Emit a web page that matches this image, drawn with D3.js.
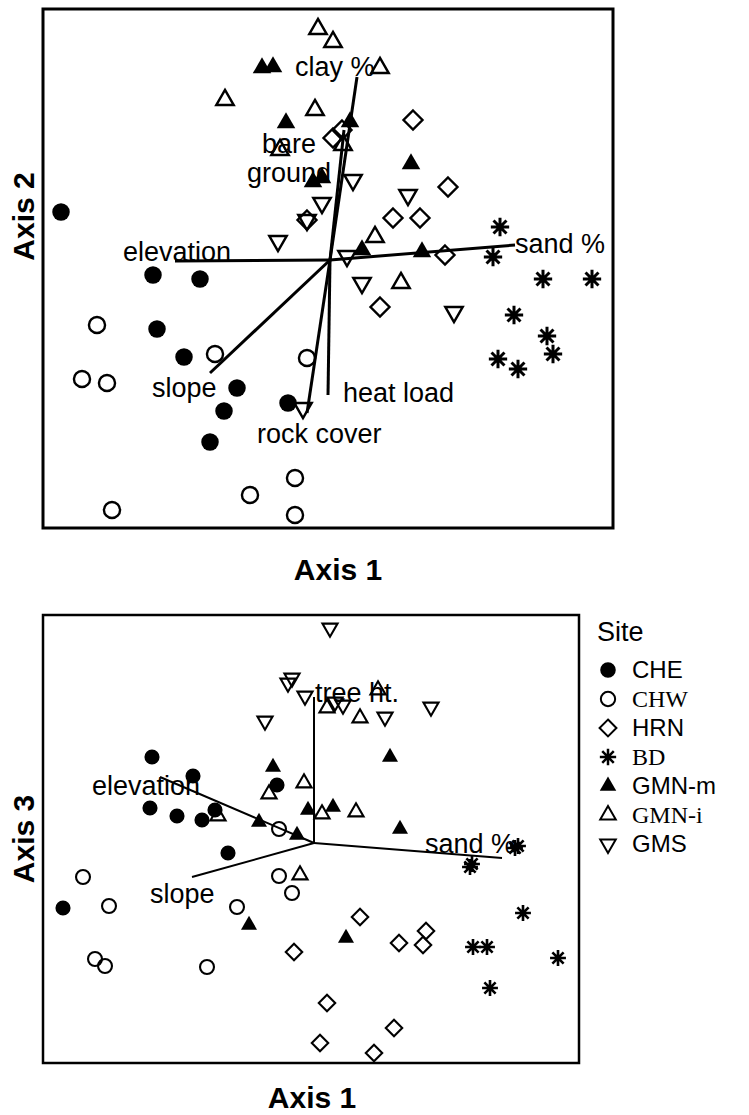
<!DOCTYPE html>
<html>
<head>
<meta charset="utf-8">
<script src="https://cdn.jsdelivr.net/npm/d3@7"></script>
<style>
    body { margin: 0; background: #fff; }
    svg text { font-family: "Liberation Sans", Arial, sans-serif; fill: #000; }
</style>
</head>
<body>
<svg id="chart" width="749" height="1115"></svg>
<script>
// site groups, in legend order
const sites = ["CHE", "CHW", "HRN", "BD", "GMN-m", "GMN-i", "GMS"];
const serifSites = ["CHW", "BD", "GMN-i"];

// plot scores on axis 1 and axis 2: [site, axis1, axis2]
const scoresAx12 = [
    ["CHE", -2.69, 0.48], ["CHE", -1.77, -0.15], ["CHE", -1.30, -0.19], ["CHE", -1.73, -0.69], ["CHE", -1.46, -0.97],
    ["CHE", -0.93, -1.28], ["CHE", -1.06, -1.51], ["CHE", -1.20, -1.82], ["CHE", -0.42, -1.43],
    ["CHW", -2.33, -0.65], ["CHW", -2.48, -1.19], ["CHW", -2.23, -1.23], ["CHW", -1.15, -0.94], ["CHW", -0.23, -0.98],
    ["CHW", -0.35, -2.18], ["CHW", -0.80, -2.35], ["CHW", -2.18, -2.50], ["CHW", -0.35, -2.55],
    ["HRN", 0.83, 1.40], ["HRN", 0.12, 1.30], ["HRN", 0.03, 1.22], ["HRN", 1.18, 0.73], ["HRN", 0.63, 0.42],
    ["HRN", 0.90, 0.42], ["HRN", 1.15, 0.05], ["HRN", 0.50, -0.47], ["HRN", -0.23, 0.40],
    ["BD", 1.70, 0.33], ["BD", 1.63, 0.03], ["BD", 2.13, -0.19], ["BD", 2.62, -0.19], ["BD", 1.84, -0.55],
    ["BD", 2.17, -0.76], ["BD", 2.23, -0.94], ["BD", 1.68, -0.99], ["BD", 1.88, -1.09],
    ["GMN-m", -0.68, 1.92], ["GMN-m", -0.57, 1.93], ["GMN-m", -0.44, 1.37], ["GMN-m", 0.20, 1.38], ["GMN-m", -0.17, 0.78],
    ["GMN-m", -0.08, 0.82], ["GMN-m", 0.81, 0.96], ["GMN-m", 0.32, 0.10], ["GMN-m", 0.92, 0.08],
    ["GMN-i", -0.12, 2.31], ["GMN-i", 0.03, 2.18], ["GMN-i", 0.50, 1.92], ["GMN-i", -1.05, 1.60], ["GMN-i", -0.15, 1.50],
    ["GMN-i", -0.50, 1.10], ["GMN-i", 0.13, 1.15], ["GMN-i", 0.45, 0.23], ["GMN-i", 0.71, -0.23],
    ["GMS", 0.23, 0.80], ["GMS", 0.78, 0.65], ["GMS", -0.08, 0.57], ["GMS", -0.23, 0.40], ["GMS", -0.52, 0.19],
    ["GMS", 0.17, 0.04], ["GMS", 0.32, -0.23], ["GMS", 1.24, -0.52], ["GMS", -0.27, -1.48]
];

// plot scores on axis 1 and axis 3: [site, axis1, axis3]
const scoresAx13 = [
    ["CHE", -1.62, 0.86], ["CHE", -1.21, 0.67], ["CHE", -0.37, 0.58], ["CHE", -1.64, 0.35], ["CHE", -1.37, 0.27],
    ["CHE", -1.12, 0.23], ["CHE", -0.99, 0.33], ["CHE", -0.86, -0.10], ["CHE", -2.51, -0.65],
    ["CHW", -0.35, 0.14], ["CHW", -2.31, -0.34], ["CHW", -2.05, -0.63], ["CHW", -0.35, -0.33], ["CHW", -0.22, -0.50],
    ["CHW", -0.77, -0.64], ["CHW", -2.19, -1.16], ["CHW", -2.09, -1.23], ["CHW", -1.07, -1.24],
    ["HRN", -0.20, -1.09], ["HRN", 0.46, -0.74], ["HRN", 0.85, -1.00], ["HRN", 1.09, -1.02], ["HRN", 1.12, -0.88],
    ["HRN", 0.13, -1.60], ["HRN", 0.80, -1.85], ["HRN", 0.06, -2.00], ["HRN", 0.60, -2.10],
    ["BD", 1.56, -0.24], ["BD", 1.58, -0.21], ["BD", 2.01, -0.05], ["BD", 2.04, -0.03], ["BD", 2.09, -0.70],
    ["BD", 1.59, -1.04], ["BD", 1.73, -1.04], ["BD", 2.44, -1.15], ["BD", 1.76, -1.45],
    ["GMN-m", -0.41, 0.76], ["GMN-m", 0.76, 0.86], ["GMN-m", -0.06, 0.33], ["GMN-m", 0.19, 0.36], ["GMN-m", -0.55, 0.21],
    ["GMN-m", -0.17, 0.08], ["GMN-m", 0.86, 0.14], ["GMN-m", -0.65, -0.82], ["GMN-m", 0.32, -0.95],
    ["GMN-i", 0.13, 1.35], ["GMN-i", 0.46, 1.25], ["GMN-i", 0.64, 1.53], ["GMN-i", -0.10, 0.60], ["GMN-i", -0.45, 0.49],
    ["GMN-i", -0.96, 0.27], ["GMN-i", 0.08, 0.29], ["GMN-i", 0.42, 0.31], ["GMN-i", -0.14, -0.32],
    ["GMS", 0.16, 2.15], ["GMS", -0.22, 1.65], ["GMS", -0.26, 1.60], ["GMS", -0.09, 1.47], ["GMS", -0.49, 1.22],
    ["GMS", 0.21, 1.41], ["GMS", 0.29, 1.38], ["GMS", 0.71, 1.26], ["GMS", 1.17, 1.36]
];

// environmental vectors (joint plot): [label, axis1, axis2/axis3]
const vectorsAx12 = [
    ["clay %", 0.27, 1.83], ["bare ground", 0.14, 1.30], ["elevation", -1.55, -0.01], ["sand %", 1.85, 0.15],
    ["slope", -1.20, -1.13], ["heat load", -0.02, -1.35], ["rock cover", -0.23, -1.53]
];
const vectorsAx13 = [
    ["tree ht.", 0.00, 1.46], ["elevation", -1.54, 0.66], ["sand %", 1.88, -0.15], ["slope", -1.22, -0.34]
];

const svg = d3.select("#chart");

// marker shapes
const diamond = {
    draw(ctx, size) {
        const r = Math.sqrt(size / 2);
        ctx.moveTo(0, -r); ctx.lineTo(r, 0); ctx.lineTo(0, r); ctx.lineTo(-r, 0); ctx.closePath();
    }
};
const star = {
    draw(ctx, size) {
        const r = Math.sqrt(size) / 2;
        for (let k = 0; k < 4; k++) {
            const a = k * Math.PI / 4;
            ctx.moveTo(-r * Math.cos(a), -r * Math.sin(a));
            ctx.lineTo(r * Math.cos(a), r * Math.sin(a));
        }
    }
};

function markerStyle(site) {
    switch (site) {
        case "CHE": return { type: d3.symbolCircle, fill: "#000", rot: 0, k: 1, w: 0 };
        case "CHW": return { type: d3.symbolCircle, fill: "none", rot: 0, k: 0.85, w: 1 };
        case "HRN": return { type: diamond, fill: "none", rot: 0, k: 0.75, w: 1 };
        case "BD": return { type: star, fill: "none", rot: 0, k: 1.4, w: 1.25 };
        case "GMN-m": return { type: d3.symbolTriangle, fill: "#000", rot: 0, k: 0.62, w: 0 };
        case "GMN-i": return { type: d3.symbolTriangle, fill: "none", rot: 0, k: 0.55, w: 1 };
        default: return { type: d3.symbolTriangle, fill: "none", rot: 180, k: 0.55, w: 1 };
    }
}

function drawMarkers(g, data, x, y, size, sw) {
    g.selectAll("path.pt")
        .data(data)
        .enter().append("path")
        .attr("class", "pt")
        .attr("d", d => {
            const m = markerStyle(d[0]);
            return d3.symbol().type(m.type).size(size * m.k)();
        })
        .attr("transform", d => `translate(${x(d[1])},${y(d[2])}) rotate(${markerStyle(d[0]).rot})`)
        .attr("fill", d => markerStyle(d[0]).fill)
        .attr("stroke", "#000")
        .attr("stroke-width", d => sw * markerStyle(d[0]).w);
}

function drawVectors(g, vecs, x, y, sw, fontSize, labelPos) {
    g.selectAll("line.vec")
        .data(vecs)
        .enter().append("line")
        .attr("class", "vec")
        .attr("x1", x(0)).attr("y1", y(0))
        .attr("x2", d => x(d[1])).attr("y2", d => y(d[2]))
        .attr("stroke", "#000")
        .attr("stroke-width", sw);

    vecs.forEach(d => {
        const p = labelPos[d[0]];
        const t = g.append("text")
            .attr("x", x(d[1]) + p[0])
            .attr("y", y(d[2]) + p[1])
            .attr("text-anchor", p[2] || "start")
            .style("font-size", fontSize + "px");
        const lines = p[3] ? d[0].split(" ") : [d[0]];
        lines.forEach((s, i) => {
            t.append("tspan").attr("x", x(d[1]) + p[0]).attr("dy", i === 0 ? 0 : p[3]).text(s);
        });
    });
}

// ---- top panel: axis 1 vs axis 2
const x12 = d3.scaleLinear().domain([-2.87, 2.83]).range([43, 613]);
const y12 = d3.scaleLinear().domain([-2.68, 2.51]).range([528, 9]);
const upper = svg.append("g");

upper.append("rect")
    .attr("x", x12.range()[0]).attr("y", y12.range()[1])
    .attr("width", x12.range()[1] - x12.range()[0])
    .attr("height", y12.range()[0] - y12.range()[1])
    .attr("fill", "none").attr("stroke", "#000").attr("stroke-width", 3);

drawVectors(upper, vectorsAx12, x12, y12, 3, 27, {
    "clay %": [-62, -1],
    "bare ground": [-55, 23, "middle", 29],
    "elevation": [-52, 0],
    "sand %": [0, 8],
    "slope": [-58, 24],
    "heat load": [15, 7],
    "rock cover": [-50, 30]
});
drawMarkers(upper, scoresAx12, x12, y12, 240, 2.4);

upper.append("text")
    .attr("transform", `translate(34,${(y12.range()[0] + y12.range()[1]) / 2 - 52}) rotate(-90)`)
    .attr("text-anchor", "middle")
    .style("font-size", "30px").style("font-weight", "bold")
    .text("Axis 2");
upper.append("text")
    .attr("x", 338).attr("y", 580)
    .attr("text-anchor", "middle")
    .style("font-size", "30px").style("font-weight", "bold")
    .text("Axis 1");

// ---- bottom panel: axis 1 vs axis 3
const x13 = d3.scaleLinear().domain([-2.71, 2.65]).range([43, 579]);
const y13 = d3.scaleLinear().domain([-2.20, 2.28]).range([1063, 615]);
const lower = svg.append("g");

lower.append("rect")
    .attr("x", x13.range()[0]).attr("y", y13.range()[1])
    .attr("width", x13.range()[1] - x13.range()[0])
    .attr("height", y13.range()[0] - y13.range()[1])
    .attr("fill", "none").attr("stroke", "#000").attr("stroke-width", 2.5);

drawVectors(lower, vectorsAx13, x13, y13, 2, 27, {
    "tree ht.": [1, 5],
    "elevation": [-68, 18],
    "sand %": [-77, -5],
    "slope": [-42, 26]
});
drawMarkers(lower, scoresAx13, x13, y13, 180, 2.1);

lower.append("text")
    .attr("transform", `translate(34,${(y13.range()[0] + y13.range()[1]) / 2}) rotate(-90)`)
    .attr("text-anchor", "middle")
    .style("font-size", "30px").style("font-weight", "bold")
    .text("Axis 3");
lower.append("text")
    .attr("x", 312).attr("y", 1108)
    .attr("text-anchor", "middle")
    .style("font-size", "30px").style("font-weight", "bold")
    .text("Axis 1");

// ---- legend
const legend = svg.append("g").attr("id", "legend").attr("transform", "translate(597,641)");
legend.append("text").attr("x", 0).attr("y", 0).style("font-size", "27px").text("Site");

const rowY = d3.scalePoint().domain(sites).range([29, 203]);
sites.forEach(s => {
    const m = markerStyle(s);
    legend.append("path")
        .attr("d", d3.symbol().type(m.type).size(190 * m.k)())
        .attr("transform", `translate(11,${rowY(s)}) rotate(${m.rot})`)
        .attr("fill", m.fill)
        .attr("stroke", "#000")
        .attr("stroke-width", 2 * m.w);
    legend.append("text")
        .attr("x", 35).attr("y", rowY(s) + 8)
        .style("font-size", "24px")
        .style("font-family", serifSites.includes(s) ? "'Liberation Serif', 'Times New Roman', serif" : null)
        .text(s);
});
</script>
</body>
</html>
